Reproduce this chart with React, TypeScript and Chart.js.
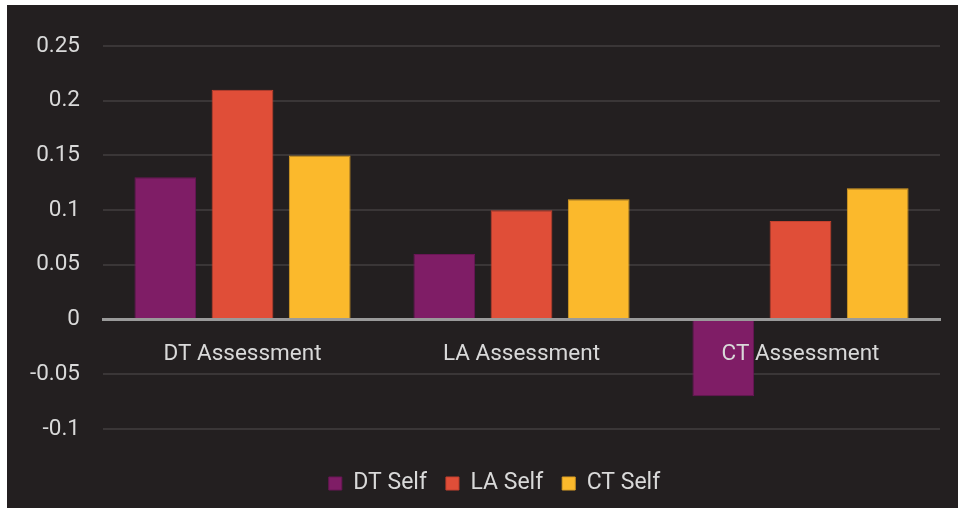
import React, { useEffect, useRef } from "react";
import { Chart, registerables } from "chart.js";

Chart.register(...registerables);

const categories = ["DT Assessment", "LA Assessment", "CT Assessment"];
const seriesNames = ["DT Self", "LA Self", "CT Self"];
const dtSelf = [0.13, 0.06, -0.07];
const laSelf = [0.21, 0.1, 0.09];
const ctSelf = [0.15, 0.11, 0.12];
const seriesColors = ["#7f1d66", "#e04e38", "#fbb92c"];
const seriesBorders = ["#6a1656", "#c5412e", "#dca024"];
const yMin = -0.1;
const yMax = 0.25;
const yStep = 0.05;

const FONT = "Roboto, 'DejaVu Sans', sans-serif";
const TEXT = "#d9d9d9";

const legendShift = {
  id: "legendShift",
  afterLayout(chart: any) {
    const l = chart.legend;
    if (l) {
      l.left += 21;
      l.right += 21;
    }
  },
};

export default function App() {
  const ref = useRef<HTMLCanvasElement>(null);
  useEffect(() => {
    if (!ref.current) return;
    const values = [dtSelf, laSelf, ctSelf];
    const chart = new Chart(ref.current, {
      type: "bar",
      data: {
        labels: categories,
        datasets: seriesNames.map((n, i) => ({
          label: n,
          data: values[i],
          backgroundColor: seriesColors[i],
          borderColor: seriesBorders[i],
          borderWidth: 1,
          categoryPercentage: 0.83,
          barPercentage: 0.8,
        })),
      },
      plugins: [legendShift],
      options: {
        responsive: false,
        animation: false,
        layout: { padding: { left: 0, right: 18, top: 41, bottom: 3 } },
        plugins: {
          tooltip: { enabled: false },
          legend: {
            position: "bottom",
            labels: {
              color: TEXT,
              font: { family: FONT, size: 23 },
              boxWidth: 13,
              boxHeight: 13,
              padding: 19,
            },
          },
        },
        scales: {
          x: {
            position: { y: 0 } as any,
            grid: { display: false, drawTicks: false },
            border: { display: true, color: "#9a9a9a", width: 3, z: 1 },
            ticks: {
              color: TEXT,
              font: { family: FONT, size: 22.5 },
              padding: 21,
              z: 1,
            },
          },
          xGap: {
            type: "category",
            position: "bottom",
            display: true,
            grid: { display: false, drawTicks: false },
            border: { display: false },
            ticks: { display: false },
            afterFit: (s: any) => {
              s.height = 24;
            },
          },
          y: {
            min: yMin,
            max: yMax,
            grid: {
              drawTicks: false,
              color: (c: any) => (c.tick && Math.abs(c.tick.value) < 1e-9 ? "#9a9a9a" : "#3a3637"),
              lineWidth: (c: any) => (c.tick && Math.abs(c.tick.value) < 1e-9 ? 3 : 2),
            },
            border: { display: false },
            ticks: {
              stepSize: yStep,
              color: TEXT,
              font: { family: FONT, size: 22.5 },
              padding: 23,
              callback: (v: any) => String(Number(Number(v).toFixed(2))),
            },
            afterFit: (s: any) => {
              s.width = 96;
            },
          },
        },
      } as any,
    });
    return () => chart.destroy();
  }, []);
  return (
    <div
      style={{
        position: "absolute",
        left: 7,
        top: 5,
        width: 951,
        height: 503,
        background: "#231f20",
      }}
    >
      <canvas ref={ref} width={951} height={503} style={{ display: "block" }} />
    </div>
  );
}
